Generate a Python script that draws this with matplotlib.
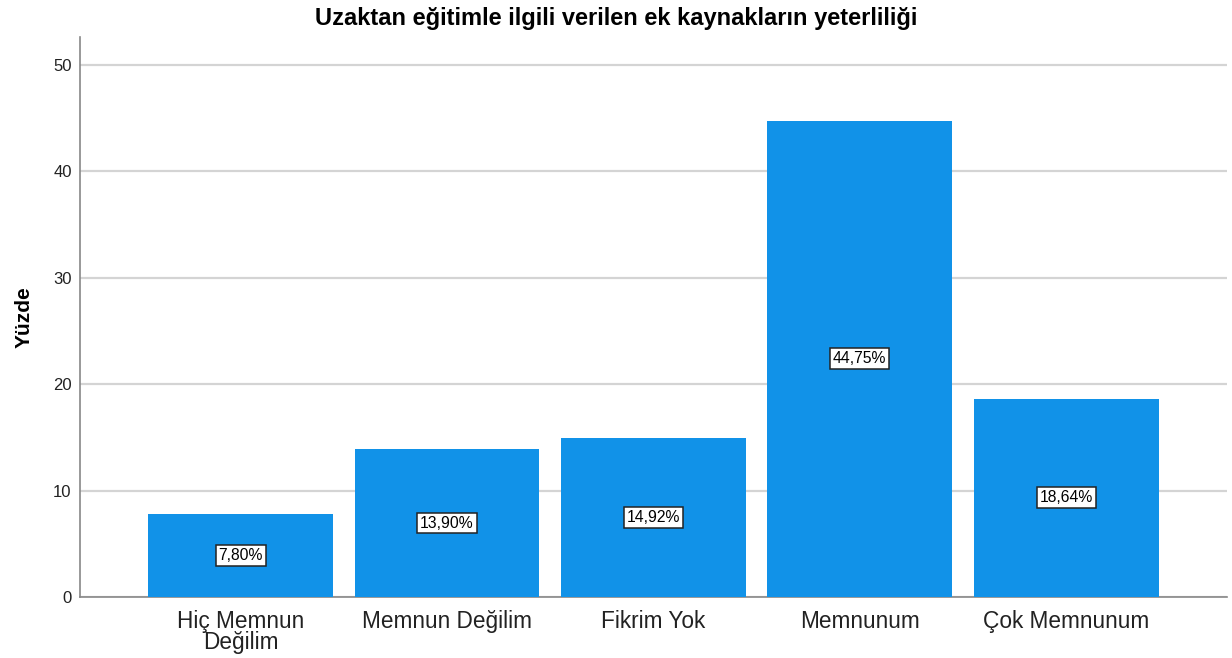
import matplotlib.pyplot as plt

plt.rcParams['font.family'] = ['Liberation Sans', 'DejaVu Sans']

# data
categories = ['Hiç Memnun\nDeğilim', 'Memnun Değilim', 'Fikrim Yok', 'Memnunum', 'Çok Memnunum']
percents = [7.80, 13.90, 14.92, 44.75, 18.64]
yticks = [0, 10, 20, 30, 40, 50]

fig = plt.figure(figsize=(12.32, 6.58), dpi=100)
ax = fig.add_axes([0.065, 0.0927, 0.931, 0.851])

x = range(len(categories))
ax.bar(x, percents, width=0.896, color='#1192e8', zorder=3)

# percentage boxes at half bar height
for i, v in zip(x, percents):
    lbl = f'{v:.2f}%'.replace('.', ',')
    ax.text(i, v / 2, lbl, ha='center', va='center', fontsize=11.3, zorder=4,
            bbox=dict(boxstyle='square,pad=0.18', fc='white', ec='#222222', lw=1.1))

ax.set_xlim(-0.778, 4.78)
ax.set_ylim(0, 52.6)
ax.set_yticks(yticks)
ax.set_yticklabels([str(t) for t in yticks], fontsize=12, color='#222222')
ax.set_xticks(list(x))
ax.set_xticklabels(categories, fontsize=16.3, color='#222222', linespacing=0.92)
ax.tick_params(axis='y', length=0, pad=6)
ax.tick_params(axis='x', length=0, pad=9)

ax.yaxis.grid(True, color='#d4d4d4', lw=1.6, zorder=0)
ax.set_axisbelow(True)
for s in ['top', 'right']:
    ax.spines[s].set_visible(False)
ax.spines['left'].set_color('#888888')
ax.spines['bottom'].set_color('#888888')
ax.spines['left'].set_linewidth(1.2)
ax.spines['bottom'].set_linewidth(1.2)

ax.set_ylabel('Yüzde', fontsize=15, fontweight='bold', labelpad=14)
fig.text(0.5, 0.972, 'Uzaktan eğitimle ilgili verilen ek kaynakların yeterliliği',
         ha='center', va='center', fontsize=17, fontweight='bold')

fig.savefig('out.png', dpi=100)
